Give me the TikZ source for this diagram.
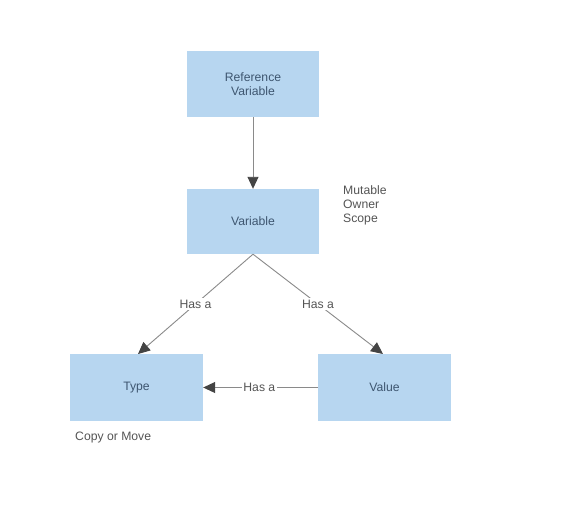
\documentclass[tikz,border=0pt]{standalone}
\usepackage{fontspec}
\setmainfont{Liberation Sans}
\usetikzlibrary{arrows.meta}
\definecolor{boxfill}{HTML}{B7D6F0}
\definecolor{boxtext}{HTML}{3E5670}
\definecolor{labtext}{HTML}{555555}
\definecolor{linecol}{HTML}{8A8A8A}
\definecolor{tipcol}{HTML}{444444}
\begin{document}
\begin{tikzpicture}[x=1pt,y=-1pt,
  box/.style={fill=boxfill,draw=none,minimum width=132pt,minimum height=66pt,inner sep=0pt,
    text=boxtext,font=\fontsize{12.2}{14}\selectfont,align=center},
  lab/.style={text=labtext,font=\fontsize{12.2}{14}\selectfont,inner sep=1pt},
  conn/.style={draw=linecol,line width=0.9pt,-{Triangle[length=12pt,width=11pt,fill=tipcol,color=tipcol]}},
  hasa/.style={lab,fill=white,inner sep=1.5pt}]
\useasboundingbox (0,0) rectangle (561,504);
\fill[white] (0,0) rectangle (561,504);
\node[box] (ref) at (253,84) {Reference\\Variable};
\node[box,minimum height=65pt] (var) at (253,221.5) {Variable};
\node[box,minimum width=133pt,minimum height=67pt] (type) at (136.5,387.5) {Type};
\node[box,minimum width=133pt,minimum height=67pt] (val) at (384.5,387.5) {Value};
\node[lab,anchor=north west,align=left] (mut) at (342,184.5) {Mutable\\Owner\\Scope};
\node[lab,anchor=west] (copy) at (74,437.5) {Copy or Move};
\coordinate (vb) at (var.south);
\coordinate (tt) at (138,354);
\coordinate (vt) at (383,354);
\draw[conn] (ref.south) -- (var.north);
\draw[conn] (vb) -- (tt) node[hasa,pos=0.5] (h1) {Has a};
\draw[conn] (vb) -- (vt) node[hasa,pos=0.5] (h2) {Has a};
\draw[conn] (val.west) -- (type.east) node[hasa,pos=0.51] (h3) {Has a};
\end{tikzpicture}
\end{document}
